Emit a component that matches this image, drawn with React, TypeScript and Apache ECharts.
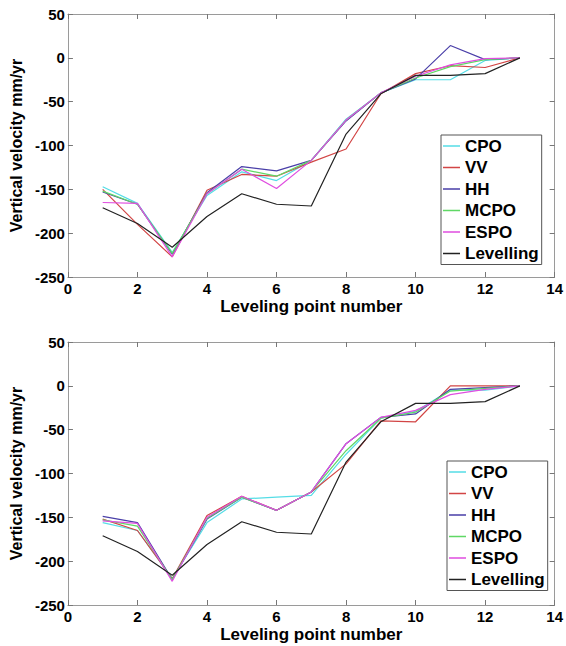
import React, { useEffect, useRef } from "react";
import * as echarts from "echarts";

const pointNumbers = [1, 2, 3, 4, 5, 6, 7, 8, 9, 10, 11, 12, 13];
const seriesNames = ["CPO", "VV", "HH", "MCPO", "ESPO", "Levelling"];
const seriesColors = ["#55dde6", "#d24545", "#4a3fa8", "#5fd865", "#e04ee0", "#222222"];

// Top panel
const topCPO = [-147, -166, -222, -157, -130, -140, -117, -70, -40, -25, -25, -3, 0];
const topVV = [-150, -190, -227, -151, -133, -135, -119, -104, -41, -18, -9, -11, 0];
const topHH = [-153, -167, -224, -154, -124, -129, -117, -72, -40, -24, 14, -2, 0];
const topMCPO = [-152, -167, -223, -155, -127, -135, -117, -71, -40, -23, -10, -2, 0];
const topESPO = [-165, -166, -227, -155, -127, -149, -117, -71, -40, -21, -8, -1, 0];
const topLevelling = [-171, -189, -216, -181, -155, -167, -169, -87, -41, -20, -20, -18, 0];

// Bottom panel
const botCPO = [-156, -165, -220, -156, -129, -127, -125, -78, -37, -29, -5, -5, 0];
const botVV = [-152, -165, -220, -148, -126, -142, -121, -89, -40, -41, 0, 0, 0];
const botHH = [-149, -156, -221, -152, -127, -142, -121, -66, -36, -32, -4, -2, 0];
const botMCPO = [-153, -160, -221, -151, -127, -142, -121, -74, -37, -30, -6, -3, 0];
const botESPO = [-154, -157, -223, -150, -126, -142, -121, -66, -36, -28, -10, -4, 0];
const botLevelling = [-171, -189, -216, -181, -155, -167, -169, -87, -41, -20, -20, -18, 0];

const xTicks = { min: 0, max: 14, interval: 2 };
const yTicks = { min: -250, max: 50, interval: 50 };

const FONT = "'Liberation Sans', Arial, sans-serif";
const LINE_ICON =
  "path://M0,0 L0.01,0 L0.01,0.01 Z M0,8.2 L18,8.2 L18,9.8 L0,9.8 Z M17.99,17.99 L18,18 L17.99,18 Z";

export default function App() {
  const ref = useRef<HTMLDivElement>(null);
  useEffect(() => {
    if (!ref.current) return;
    const chart = echarts.init(ref.current, null, { renderer: "svg" });
    const axisLineStyle = { color: "#9a9a9a", width: 1 };
    const tick = { show: true, inside: true, length: 5, lineStyle: { color: "#777" } };
    const labelStyle = { color: "#000", fontWeight: "bold" as const, fontSize: 15, fontFamily: FONT };

    const makeX = (gridIndex: number, main: boolean) => ({
      type: "value",
      gridIndex,
      position: main ? "bottom" : "top",
      ...xTicks,
      name: main ? "Leveling point number" : "",
      nameLocation: "middle",
      nameGap: 21,
      nameTextStyle: { ...labelStyle, fontSize: 17 },
      axisLine: { show: true, onZero: false, lineStyle: axisLineStyle },
      axisTick: tick,
      axisLabel: { show: main, margin: 4, ...labelStyle },
      splitLine: { show: false },
    });
    const makeY = (gridIndex: number, main: boolean) => ({
      type: "value",
      gridIndex,
      position: main ? "left" : "right",
      ...yTicks,
      name: main ? "Vertical velocity mm/yr" : "",
      nameLocation: "middle",
      nameGap: 42,
      nameRotate: 90,
      nameTextStyle: { ...labelStyle, fontSize: 16 },
      axisLine: { show: true, onZero: false, lineStyle: axisLineStyle },
      axisTick: tick,
      axisLabel: { show: main, margin: 3, ...labelStyle },
      splitLine: { show: false },
    });

    const topData = [topCPO, topVV, topHH, topMCPO, topESPO, topLevelling];
    const botData = [botCPO, botVV, botHH, botMCPO, botESPO, botLevelling];
    const mk = (arr: number[][], xi: number, yi: number) =>
      arr.map((vals, i) => ({
        type: "line",
        name: seriesNames[i],
        xAxisIndex: xi,
        yAxisIndex: yi,
        symbol: "none",
        color: seriesColors[i],
        itemStyle: { color: seriesColors[i] },
        lineStyle: { width: 1.2, color: seriesColors[i] },
        data: vals.map((v, k) => [pointNumbers[k], v]),
        z: 2 + i,
      }));

    const legendCommon = {
      orient: "vertical",
      icon: LINE_ICON,
      itemWidth: 17,
      itemHeight: 18,
      itemGap: 3.5,
      padding: [2, 3, 2, 2],
      borderColor: "#555",
      borderWidth: 1,
      backgroundColor: "#fff",
      textStyle: { color: "#000", fontWeight: "bold", fontSize: 17, lineHeight: 18, fontFamily: FONT },
      data: seriesNames.map((n, i) => ({ name: n, itemStyle: { color: seriesColors[i] } })),
      selectedMode: false,
    };

    chart.setOption({
      animation: false,
      backgroundColor: "#fff",
      grid: [
        { left: 65, top: 14, width: 491, height: 263 },
        { left: 65, top: 342, width: 491, height: 263 },
      ],
      xAxis: [makeX(0, true), makeX(0, false), makeX(1, true), makeX(1, false)],
      yAxis: [makeY(0, true), makeY(0, false), makeY(1, true), makeY(1, false)],
      legend: [
        { ...legendCommon, left: 441, top: 135 },
        { ...legendCommon, left: 447, top: 461 },
      ],
      series: [...mk(topData, 0, 0), ...mk(botData, 2, 2)],
    });
    return () => chart.dispose();
  }, []);
  return (
    <div
      ref={ref}
      style={{ position: "fixed", left: 0, top: 0, width: 566, height: 646, background: "#fff" }}
    />
  );
}
